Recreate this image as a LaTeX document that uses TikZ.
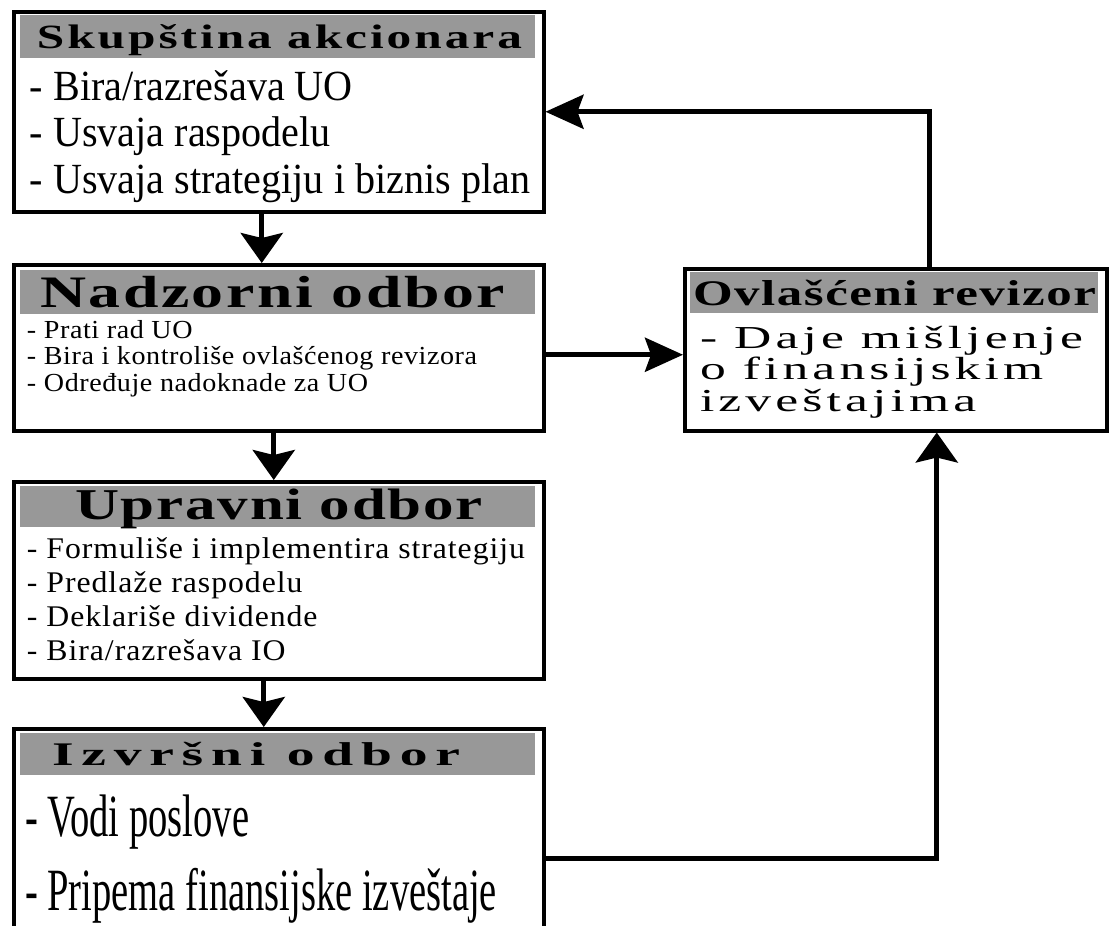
\documentclass[tikz,border=0pt]{standalone}
\usepackage{fontspec}
\setmainfont{Liberation Serif}
\usepackage{graphicx}
\usetikzlibrary{arrows.meta}
\definecolor{hdrgray}{RGB}{152,152,152}
% header line: target width, size, letter spacing, text
\newcommand\hdtext[4]{\resizebox{#1}{\height}{\fontsize{#2}{#2}\selectfont\bfseries\addfontfeature{LetterSpace=#3}#4}}
% body block: target width, size, line skip, letter spacing, lines
\newcommand\bodytext[5]{\resizebox{#1}{\height}{\fontsize{#2}{#3}\selectfont\addfontfeature{LetterSpace=#4}\begin{tabular}[t]{@{}l@{}}#5\end{tabular}}}

\begin{document}
\begin{tikzpicture}[x=1pt,y=-1pt,
  panel/.style={draw=black,line width=3.5pt,fill=white,rectangle,anchor=north west,inner sep=0pt},
  band/.style={fill=hdrgray,rectangle,anchor=north west,inner sep=0pt,outer sep=0pt},
  txt/.style={anchor=base west,inner sep=0pt,outer sep=0pt},
  vlink/.style={line width=5pt,-{Stealth[length=30pt,width=42pt,inset=5pt]}},
  hlink/.style={line width=5pt,-{Stealth[length=38pt,width=34pt,inset=6pt]}}]
\useasboundingbox (0,0) rectangle (1109,926);
\fill[white] (0,0) rectangle (1109,926);

% Skupstina akcionara
\node[panel,minimum width=530pt,minimum height=200pt] (b1) at (12,10) {};
\node[band,minimum width=515pt,minimum height=43pt] (h1) at (20,15) {};
\node[txt] (t1h) at (37,48) {\hdtext{485pt}{34pt}{6}{Skupština akcionara}};
\node[txt] (t1b) at (30,100) {\bodytext{500pt}{43pt}{46.5pt}{0}{- Bira/razrešava UO\\- Usvaja raspodelu\\- Usvaja strategiju i biznis plan}};

% Nadzorni odbor
\node[panel,minimum width=530pt,minimum height=166pt] (b2) at (12,263) {};
\node[band,minimum width=515pt,minimum height=44pt] (h2) at (20,270) {};
\node[txt] (t2h) at (40,307) {\hdtext{465pt}{45pt}{4}{Nadzorni odbor}};
\node[txt] (t2b) at (27,338) {\bodytext{450pt}{26pt}{26.5pt}{2}{- Prati rad UO\\- Bira i kontroliše ovlašćenog revizora\\- Određuje nadoknade za UO}};

% Upravni odbor
\node[panel,minimum width=530pt,minimum height=197pt] (b3) at (12,480) {};
\node[band,minimum width=515pt,minimum height=41pt] (h3) at (20,486) {};
\node[txt] (t3h) at (75,519) {\hdtext{408pt}{44pt}{3}{Upravni odbor}};
\node[txt] (t3b) at (27,558) {\bodytext{498pt}{30pt}{34pt}{3}{- Formuliše i implementira strategiju\\- Predlaže raspodelu\\- Deklariše dividende\\- Bira/razrešava IO}};

% Izvrsni odbor
\node[panel,minimum width=530pt,minimum height=260pt] (b4) at (12,727) {};
\node[band,minimum width=515pt,minimum height=42pt] (h4) at (20,733) {};
\node[txt] (t4h) at (52,765) {\hdtext{408pt}{33pt}{14}{Izvršni odbor}};
\node[txt] (t4b) at (25,836) {\bodytext{472pt}{60pt}{74pt}{0}{- Vodi poslove\\- Pripema finansijske izveštaje}};

% Ovlasceni revizor
\node[panel,minimum width=422pt,minimum height=162pt] (b5) at (683,267) {};
\node[band,minimum width=408pt,minimum height=41pt] (h5) at (690,272) {};
\node[txt] (t5h) at (693,305) {\hdtext{403pt}{36pt}{3}{Ovlašćeni revizor}};
\node[txt] (t5b) at (700,348) {\bodytext{383pt}{32pt}{31.5pt}{8}{- Daje mišljenje\\o finansijskim\\izveštajima}};

% connectors
\draw[vlink] ([xshift=-17pt]b1.south) -- ([xshift=-17pt]b2.north);
\draw[vlink] ([xshift=-5pt]b2.south) -- ([xshift=-5pt]b3.north);
\draw[vlink] ([xshift=-15pt]b3.south) -- ([xshift=-15pt]b4.north);
\draw[hlink] ([yshift=-7pt]b2.east) -- ([yshift=-7pt]b2.east -| b5.west);
\draw[hlink] ([xshift=34pt]b5.north) |- (b1.east);
\draw[vlink] (b4.east) -| ([xshift=41pt]b5.south);
\end{tikzpicture}
\end{document}
